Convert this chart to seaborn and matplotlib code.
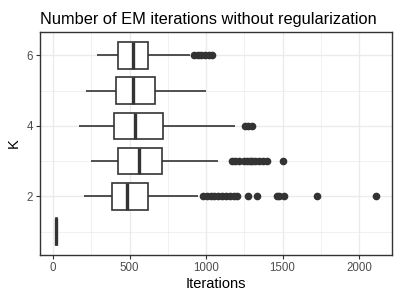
import pandas as pd
import matplotlib
matplotlib.use('Agg')
import matplotlib.pyplot as plt
import seaborn as sns
from matplotlib.ticker import MultipleLocator

# EM iterations per number of components K
k1 = [15, 16, 17, 19, 20, 21, 23, 24, 26]
k2 = [203, 228, 250, 268, 284, 297, 308, 318, 327, 335, 342, 348, 354, 359, 364, 369, 373, 377, 380, 383,
      386,
      391, 396, 401, 406, 411, 416, 421, 426, 431, 436, 441, 446, 451, 456, 461, 466, 471, 476, 480,
      485,
      491, 498, 505, 512, 519, 526, 533, 540, 547, 554, 561, 568, 575, 582, 589, 596, 603, 610, 616,
      622,
      660, 760, 950, 980, 1005, 1030, 1055, 1080, 1105, 1130, 1155, 1180, 1200,
      1274, 1332, 1463, 1478, 1512, 1724, 2110]
k3 = [246, 272, 295, 315, 332, 347, 360, 371, 381, 389, 396, 402, 407, 412, 416, 419, 422, 424,
      426,
      433, 441, 449, 457, 465, 473, 481, 489, 497, 505, 513, 521, 528, 535, 542, 549, 555,
      561,
      569, 577, 585, 593, 601, 609, 617, 625, 633, 641, 649, 657, 665, 673, 682, 691, 700,
      709,
      740, 780, 830, 900, 980, 1081, 1169, 1190, 1215, 1245, 1270, 1285, 1300, 1320, 1345, 1375, 1398, 1502]
k4 = [169, 240, 300, 345, 372, 390,
      398,
      425, 455, 482, 505, 524,
      539,
      570, 605, 640, 672, 700,
      720,
      810, 950, 1191, 1256, 1275, 1300]
k5 = [213, 290, 340, 380, 400,
      413,
      440, 465, 490, 508,
      520,
      555, 590, 620, 645,
      665,
      730, 800, 870, 940, 1002]
k6 = [289, 330, 360, 380, 395, 408, 416, 421,
      426,
      440, 455, 468, 480, 492, 503, 513,
      522,
      535, 548, 561, 574, 588, 600, 611,
      622,
      700, 898, 920, 945, 970, 995, 1020, 1039]

iters = {1: k1, 2: k2, 3: k3, 4: k4, 5: k5, 6: k6}
df = pd.DataFrame([(k, v) for k, vals in iters.items() for v in vals],
                  columns=['K', 'Iterations'])

sns.set_theme(style='white')
plt.rcParams['font.family'] = ['Liberation Sans', 'DejaVu Sans']

fig, ax = plt.subplots(figsize=(4, 3), dpi=100)
fig.subplots_adjust(left=0.1, right=0.98, top=0.893, bottom=0.15)

dark = '#333333'
sns.boxplot(data=df, x='Iterations', y='K', orient='h', native_scale=True,
            width=0.75, color='white', linecolor=dark, linewidth=1.2,
            showcaps=False,
            flierprops=dict(marker='o', markersize=4.5,
                            markerfacecolor=dark, markeredgecolor=dark),
            medianprops=dict(linewidth=2.4, color=dark),
            ax=ax)

ax.set_xlim(-85, 2215)
ax.set_ylim(0.3375, 6.6625)
ax.set_xticks([0, 500, 1000, 1500, 2000])
ax.set_yticks([2, 4, 6])
ax.xaxis.set_minor_locator(MultipleLocator(250))
ax.yaxis.set_minor_locator(MultipleLocator(1))

ax.set_axisbelow(True)
ax.grid(which='major', color='#EBEBEB', linewidth=1.0)
ax.grid(which='minor', color='#EBEBEB', linewidth=0.5)
for s in ax.spines.values():
    s.set_visible(True)
    s.set_color(dark)
    s.set_linewidth(1.0)

ax.tick_params(which='major', length=3, width=0.8, color=dark,
               labelsize=8.3, labelcolor='#4D4D4D', pad=2,
               bottom=True, left=True)
ax.tick_params(which='minor', length=0)

ax.set_xlabel('Iterations', fontsize=10.5, color='black', labelpad=2)
ax.set_ylabel('K', fontsize=10.5, color='black', labelpad=4)
ax.set_title('Number of EM iterations without regularization',
             fontsize=11.8, loc='left', pad=6, color='black')

fig.savefig('out.png', dpi=100)
